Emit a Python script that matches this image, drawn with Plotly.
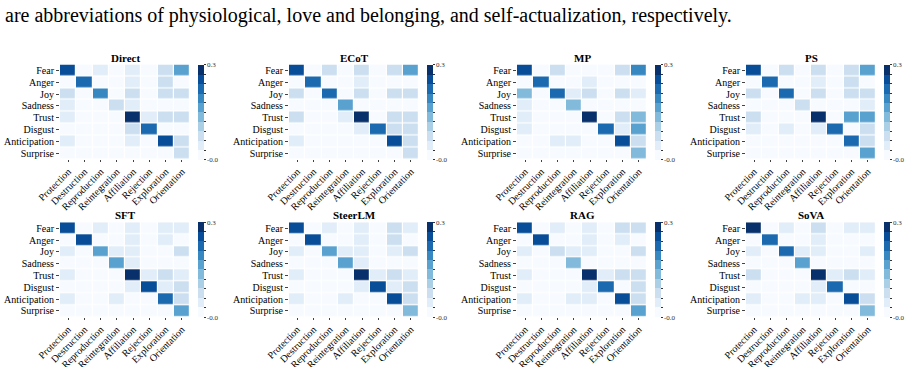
import plotly.graph_objects as go

emotions = ["Fear", "Anger", "Joy", "Sadness", "Trust", "Disgust", "Anticipation", "Surprise"]
needs = ["Protection", "Destruction", "Reproduction", "Reintegration", "Affiliation",
         "Rejection", "Exploration", "Orientation"]
panel_titles = ["Direct", "ECoT", "MP", "PS", "SFT", "SteerLM", "RAG", "SoVA"]
caption = "are abbreviations of physiological, love and belonging, and self-actualization, respectively."

direct = [
    [0.255, 0.01, 0.045, 0.01, 0.045, 0.01, 0.075, 0.165],
    [0.01, 0.225, 0.01, 0.01, 0.045, 0.01, 0.075, 0.01],
    [0.075, 0.01, 0.195, 0.01, 0.075, 0.01, 0.065, 0.075],
    [0.045, 0.01, 0.01, 0.075, 0.045, 0.01, 0.01, 0.01],
    [0.045, 0.01, 0.01, 0.01, 0.29, 0.045, 0.065, 0.075],
    [0.01, 0.01, 0.01, 0.01, 0.075, 0.225, 0.01, 0.01],
    [0.045, 0.01, 0.01, 0.01, 0.045, 0.01, 0.255, 0.075],
    [0.01, 0.01, 0.01, 0.01, 0.01, 0.01, 0.01, 0.075],
]
ecot = [
    [0.255, 0.01, 0.075, 0.01, 0.075, 0.01, 0.075, 0.165],
    [0.01, 0.225, 0.01, 0.01, 0.045, 0.01, 0.01, 0.01],
    [0.075, 0.01, 0.225, 0.01, 0.075, 0.01, 0.065, 0.075],
    [0.01, 0.01, 0.01, 0.16, 0.01, 0.01, 0.01, 0.01],
    [0.075, 0.01, 0.01, 0.045, 0.29, 0.01, 0.075, 0.075],
    [0.01, 0.01, 0.01, 0.01, 0.045, 0.225, 0.075, 0.075],
    [0.045, 0.01, 0.01, 0.01, 0.01, 0.01, 0.255, 0.075],
    [0.01, 0.01, 0.01, 0.01, 0.01, 0.01, 0.01, 0.075],
]
mp = [
    [0.255, 0.01, 0.075, 0.01, 0.01, 0.01, 0.065, 0.185],
    [0.01, 0.225, 0.01, 0.01, 0.045, 0.01, 0.01, 0.01],
    [0.135, 0.01, 0.225, 0.045, 0.075, 0.01, 0.065, 0.045],
    [0.045, 0.01, 0.01, 0.135, 0.01, 0.01, 0.01, 0.01],
    [0.045, 0.01, 0.01, 0.01, 0.29, 0.01, 0.075, 0.135],
    [0.045, 0.01, 0.01, 0.01, 0.01, 0.225, 0.045, 0.16],
    [0.01, 0.01, 0.045, 0.045, 0.01, 0.01, 0.255, 0.075],
    [0.01, 0.01, 0.01, 0.01, 0.01, 0.01, 0.01, 0.135],
]
ps = [
    [0.255, 0.01, 0.075, 0.01, 0.065, 0.01, 0.075, 0.16],
    [0.01, 0.225, 0.01, 0.01, 0.045, 0.01, 0.065, 0.01],
    [0.075, 0.01, 0.225, 0.01, 0.065, 0.01, 0.075, 0.075],
    [0.01, 0.01, 0.01, 0.075, 0.01, 0.01, 0.01, 0.045],
    [0.075, 0.01, 0.01, 0.01, 0.29, 0.01, 0.16, 0.16],
    [0.045, 0.01, 0.045, 0.01, 0.045, 0.225, 0.01, 0.075],
    [0.01, 0.01, 0.01, 0.01, 0.01, 0.01, 0.225, 0.075],
    [0.01, 0.01, 0.01, 0.01, 0.01, 0.01, 0.01, 0.16],
]
sft = [
    [0.245, 0.01, 0.045, 0.01, 0.045, 0.01, 0.045, 0.045],
    [0.01, 0.255, 0.01, 0.01, 0.045, 0.01, 0.045, 0.01],
    [0.045, 0.01, 0.16, 0.045, 0.045, 0.01, 0.01, 0.065],
    [0.01, 0.01, 0.01, 0.16, 0.045, 0.01, 0.01, 0.01],
    [0.045, 0.01, 0.01, 0.01, 0.29, 0.045, 0.065, 0.045],
    [0.01, 0.01, 0.01, 0.01, 0.045, 0.255, 0.045, 0.065],
    [0.045, 0.01, 0.01, 0.045, 0.01, 0.01, 0.225, 0.065],
    [0.01, 0.01, 0.01, 0.01, 0.01, 0.01, 0.01, 0.16],
]
steerlm = [
    [0.255, 0.01, 0.045, 0.01, 0.045, 0.01, 0.065, 0.045],
    [0.01, 0.255, 0.01, 0.01, 0.045, 0.01, 0.065, 0.01],
    [0.045, 0.01, 0.16, 0.045, 0.045, 0.01, 0.045, 0.065],
    [0.01, 0.01, 0.01, 0.16, 0.045, 0.01, 0.01, 0.01],
    [0.045, 0.01, 0.01, 0.01, 0.29, 0.045, 0.065, 0.045],
    [0.01, 0.01, 0.01, 0.01, 0.045, 0.255, 0.045, 0.065],
    [0.045, 0.01, 0.01, 0.045, 0.01, 0.01, 0.255, 0.065],
    [0.01, 0.01, 0.01, 0.01, 0.01, 0.01, 0.01, 0.135],
]
rag = [
    [0.255, 0.01, 0.045, 0.01, 0.045, 0.01, 0.065, 0.075],
    [0.01, 0.255, 0.01, 0.01, 0.045, 0.01, 0.045, 0.01],
    [0.045, 0.01, 0.075, 0.045, 0.045, 0.01, 0.01, 0.065],
    [0.01, 0.01, 0.01, 0.135, 0.01, 0.01, 0.01, 0.01],
    [0.045, 0.01, 0.01, 0.01, 0.29, 0.045, 0.065, 0.065],
    [0.01, 0.01, 0.01, 0.01, 0.045, 0.225, 0.01, 0.065],
    [0.045, 0.01, 0.01, 0.045, 0.045, 0.01, 0.255, 0.065],
    [0.01, 0.01, 0.01, 0.01, 0.01, 0.01, 0.01, 0.16],
]
sova = [
    [0.29, 0.01, 0.045, 0.01, 0.065, 0.01, 0.045, 0.045],
    [0.01, 0.225, 0.01, 0.01, 0.045, 0.01, 0.01, 0.01],
    [0.045, 0.01, 0.225, 0.045, 0.045, 0.01, 0.01, 0.045],
    [0.01, 0.01, 0.01, 0.16, 0.01, 0.01, 0.01, 0.01],
    [0.065, 0.01, 0.01, 0.01, 0.29, 0.045, 0.065, 0.045],
    [0.01, 0.01, 0.01, 0.01, 0.045, 0.225, 0.01, 0.01],
    [0.045, 0.01, 0.01, 0.045, 0.045, 0.01, 0.255, 0.065],
    [0.01, 0.01, 0.01, 0.01, 0.01, 0.01, 0.01, 0.135],
]
panels = [direct, ecot, mp, ps, sft, steerlm, rag, sova]

# ---- discrete Blues colorscale (10 levels, 0..0.3) ----
anchors = [(0.0, (247, 251, 255)), (0.125, (222, 235, 247)), (0.25, (198, 219, 239)),
           (0.375, (158, 202, 225)), (0.5, (107, 174, 214)), (0.625, (66, 146, 198)),
           (0.75, (33, 113, 181)), (0.875, (8, 81, 156)), (1.0, (8, 48, 107))]

def blues(t):
    for (t0, c0), (t1, c1) in zip(anchors[:-1], anchors[1:]):
        if t0 <= t <= t1:
            f = (t - t0) / (t1 - t0)
            return "rgb(%d,%d,%d)" % tuple(round(a + (b - a) * f) for a, b in zip(c0, c1))
    return "rgb(8,48,107)"

nlev = 10
cscale = []
for i in range(nlev):
    col = blues(i / (nlev - 1))
    cscale.append([i / nlev, col])
    cscale.append([(i + 1) / nlev, col])

W, H = 905, 367
col_x = [60, 289, 517, 746]
row_y = [64.5, 222.3]
pw, ph = 130, 94.5
FONT = "Liberation Serif"

fig = go.Figure()
layout = dict(width=W, height=H, margin=dict(l=0, r=0, t=0, b=0),
              paper_bgcolor="white", plot_bgcolor="white", showlegend=False,
              template="none", font=dict(family=FONT, color="black"))
annotations = []
cb_vals = [i * 0.03 for i in range(11)]
cb_text = ["-0.0"] + [""] * 9 + ["0.3"]

for k, (title, z) in enumerate(zip(panel_titles, panels)):
    r, c = divmod(k, 4)
    x0 = col_x[c]
    y0 = row_y[r]
    n = k + 1
    xa = "x" if n == 1 else "x%d" % n
    ya = "y" if n == 1 else "y%d" % n
    fig.add_trace(go.Heatmap(
        z=z, x=needs, y=emotions, xaxis=xa, yaxis=ya,
        colorscale=cscale, zmin=0, zmax=0.3, xgap=1.2, ygap=1.2,
        colorbar=dict(x=(x0 + pw + 8) / W, xanchor="left", y=1 - y0 / H, yanchor="top",
                      len=ph, lenmode="pixels", thickness=5.5, thicknessmode="pixels",
                      xpad=0, ypad=0, outlinewidth=0, tickmode="array",
                      tickvals=cb_vals, ticktext=cb_text, ticks="outside", ticklen=2,
                      tickwidth=0.6, tickcolor="#333", tickfont=dict(size=7, family=FONT, color="#333")),
        hoverinfo="skip"))
    axkey_x = "xaxis" if n == 1 else "xaxis%d" % n
    axkey_y = "yaxis" if n == 1 else "yaxis%d" % n
    layout[axkey_x] = dict(domain=[x0 / W, (x0 + pw) / W], anchor=ya, tickangle=-45,
                           tickmode="array", tickvals=needs, ticktext=needs,
                           tickfont=dict(size=10, family=FONT, color="black"),
                           ticks="outside", ticklen=2, tickwidth=0.6, tickcolor="#444",
                           showgrid=False, zeroline=False, showline=False, automargin=False)
    layout[axkey_y] = dict(domain=[1 - (y0 + ph) / H, 1 - y0 / H], anchor=xa, autorange="reversed",
                           tickmode="array", tickvals=emotions, ticktext=emotions,
                           tickfont=dict(size=10, family=FONT, color="black"),
                           ticks="outside", ticklen=3, tickwidth=0.6, tickcolor="#444",
                           showgrid=False, zeroline=False, showline=False, automargin=False)
    annotations.append(dict(text="<b>%s</b>" % title, x=(x0 + pw / 2) / W, y=1 - (y0 - 7) / H,
                            xref="paper", yref="paper", showarrow=False, xanchor="center",
                            yanchor="middle", font=dict(size=11, family=FONT, color="black")))

annotations.append(dict(text=caption, x=3 / W, y=1 - 15 / H, xref="paper", yref="paper",
                        showarrow=False, xanchor="left", yanchor="middle",
                        font=dict(size=20, family=FONT, color="black")))
layout["annotations"] = annotations
fig.update_layout(**layout)
fig.write_html("out.html")
